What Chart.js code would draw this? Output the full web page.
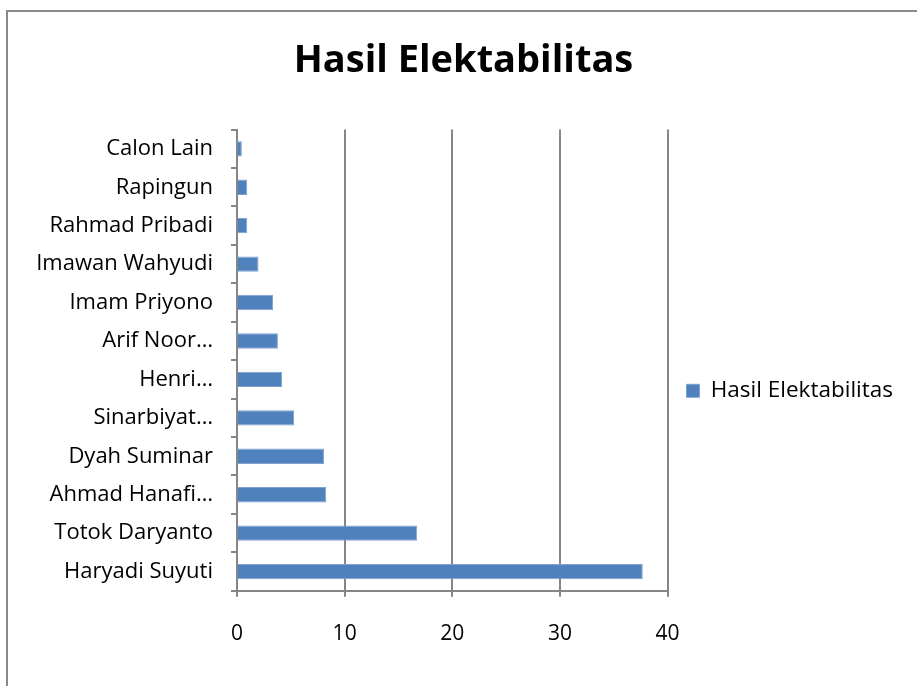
<!DOCTYPE html>
<html>
<head>
<meta charset="utf-8">
<script src="https://cdn.jsdelivr.net/npm/chart.js@4"></script>
<style>
  html, body { margin: 0; padding: 0; background: #fff; }
  #wrap { position: relative; width: 917px; height: 686px; overflow: hidden; }
  #frame { position: absolute; left: 6px; top: 10px; width: 1000px; height: 1000px; border: 2px solid #898989; }
  #chart { position: absolute; left: 0; top: 0; }
</style>
</head>
<body>
<div id="wrap">
  <div id="frame"></div>
  <canvas id="chart" width="917" height="686"></canvas>
</div>
<script>
// candidates, top to bottom as in the picture
const candidates = [
    'Calon Lain', 'Rapingun', 'Rahmad Pribadi', 'Imawan Wahyudi', 'Imam Priyono',
    'Arif Noor…', 'Henri…', 'Sinarbiyat…', 'Dyah Suminar', 'Ahmad Hanafi…',
    'Totok Daryanto', 'Haryadi Suyuti'
];
const electability = [0.45, 0.95, 0.95, 2.0, 3.35, 3.8, 4.2, 5.3, 8.1, 8.3, 16.75, 37.7];
const seriesName = 'Hasil Elektabilitas';
const xTicks = [0, 10, 20, 30, 40];

const font = '"Open Sans", Calibri, sans-serif';
const ctx = document.getElementById('chart').getContext('2d');

new Chart(ctx, {
    type: 'bar',
    data: {
        labels: candidates,
        datasets: [{
            label: seriesName,
            data: electability,
            backgroundColor: '#4f81bd',
            borderColor: '#7ea3d1',
            borderWidth: 1,
            categoryPercentage: 1,
            barPercentage: 0.4
        }]
    },
    options: {
        indexAxis: 'y',
        responsive: false,
        animation: false,
        layout: {
            padding: { left: 24, right: 14, top: 10, bottom: 14 }
        },
        plugins: {
            title: {
                display: true,
                text: 'Hasil Elektabilitas',
                color: '#000',
                font: { family: font, size: 38, weight: 'bold' },
                padding: { top: 28, bottom: 46 }
            },
            legend: {
                position: 'right',
                fullSize: false,
                maxWidth: 300,
                title: { display: true, text: ' ', font: { size: 1 }, padding: { top: 60, bottom: 0 } },
                labels: {
                    color: '#000',
                    font: { family: font, size: 22.5 },
                    boxWidth: 13,
                    boxHeight: 13,
                    padding: 19
                }
            },
            tooltip: { enabled: false }
        },
        scales: {
            x: {
                min: 0,
                max: 40,
                afterBuildTicks: (scale) => { scale.ticks = xTicks.map(v => ({ value: v })); },
                grid: { color: '#868686', lineWidth: 2, tickLength: 6 },
                border: { color: '#868686', width: 2 },
                ticks: { color: '#000', font: { family: font, size: 21 }, padding: 25 }
            },
            y: {
                afterFit: (scale) => { scale.width = 213; },
                grid: { drawOnChartArea: false, color: '#868686', lineWidth: 2, tickLength: 6, offset: true },
                border: { color: '#868686', width: 2 },
                ticks: { color: '#000', font: { family: font, size: 22 }, padding: 18 }
            }
        }
    }
});
</script>
</body>
</html>
